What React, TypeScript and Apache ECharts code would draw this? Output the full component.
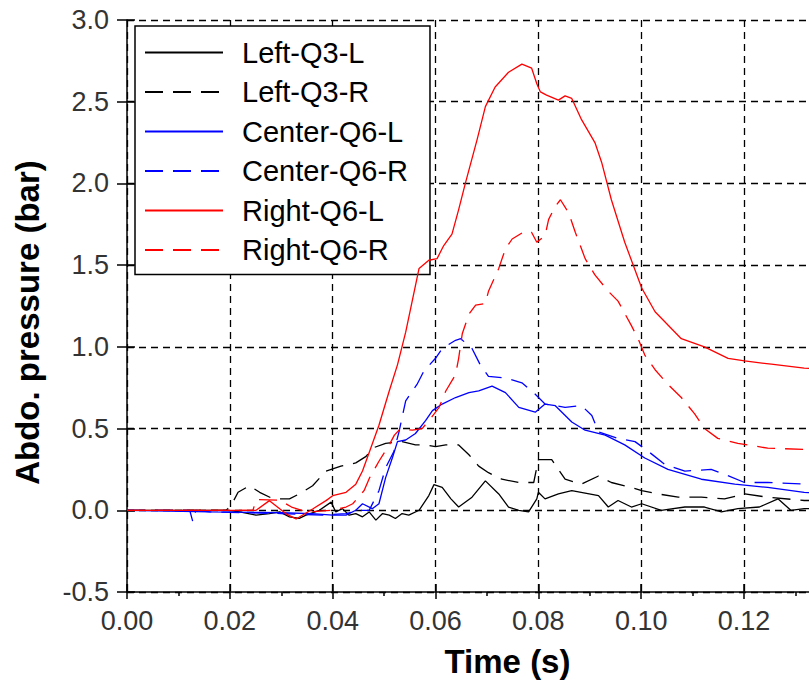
import React, { useEffect, useRef } from "react";
import * as echarts from "echarts";

const seriesNames = ["Left-Q3-L", "Left-Q3-R", "Center-Q6-L", "Center-Q6-R", "Right-Q6-L", "Right-Q6-R"];

const leftQ3L: [number, number][] = [
  [0, 0], [0.0196, 0], [0.0219, -0.01], [0.0251, -0.03], [0.0277, -0.02], [0.0297, -0.01], [0.0316, -0.04],
  [0.0335, -0.05], [0.0348, -0.03], [0.0374, 0.0], [0.0397, 0.05], [0.0406, -0.01], [0.0419, 0.01], [0.0432, -0.03],
  [0.0445, -0.02], [0.0458, -0.04], [0.0471, -0.01], [0.0484, -0.06], [0.0497, -0.02], [0.051, -0.03], [0.0522, -0.05],
  [0.0535, -0.02], [0.0548, -0.03], [0.0568, 0.0], [0.0587, 0.09], [0.0597, 0.157], [0.0613, 0.14], [0.063, 0.07],
  [0.0645, 0.02], [0.0671, 0.08], [0.0697, 0.18], [0.0723, 0.1], [0.0742, 0.02], [0.0762, 0.0], [0.0781, -0.01],
  [0.0797, 0.07], [0.08, 0.11], [0.0813, 0.07], [0.0839, 0.1], [0.0865, 0.12], [0.0917, 0.09], [0.0936, 0.02],
  [0.0955, 0.06], [0.0981, 0.02], [0.1001, 0.04], [0.1039, 0.0], [0.1085, 0.02], [0.1123, 0.02], [0.1156, -0.01],
  [0.1188, 0.01], [0.123, 0.02], [0.1266, 0.07], [0.1291, 0.0], [0.1317, 0.01], [0.136, 0.01],
];

const leftQ3R: [number, number][] = [
  [0, 0], [0.0193, 0], [0.0196, 0.01], [0.0206, 0.05], [0.0216, 0.11], [0.0238, 0.15], [0.0258, 0.11], [0.0284, 0.07],
  [0.0316, 0.07], [0.0335, 0.1], [0.0361, 0.15], [0.0387, 0.24], [0.0416, 0.27], [0.0445, 0.29], [0.0465, 0.33],
  [0.0477, 0.38], [0.0503, 0.41], [0.0535, 0.42], [0.0561, 0.4], [0.0581, 0.4], [0.06, 0.39], [0.062, 0.4],
  [0.0645, 0.4], [0.0665, 0.34], [0.0684, 0.27], [0.0703, 0.23], [0.0729, 0.19], [0.0762, 0.17], [0.0791, 0.17],
  [0.08, 0.31], [0.0826, 0.31], [0.0852, 0.19], [0.0884, 0.16], [0.0917, 0.21], [0.0942, 0.17], [0.0981, 0.14],
  [0.1001, 0.12], [0.1033, 0.1], [0.1072, 0.08], [0.1117, 0.08], [0.1162, 0.07], [0.1201, 0.1], [0.1246, 0.08],
  [0.1317, 0.06], [0.136, 0.06],
];

const centerQ6L: [number, number][] = [
  [0, 0], [0.0161, -0.01], [0.03, -0.015], [0.036, -0.02], [0.04, -0.03], [0.0426, -0.03], [0.0445, 0.0],
  [0.0458, 0.04], [0.0477, 0.01], [0.049, 0.04], [0.0503, 0.2], [0.0516, 0.32], [0.0526, 0.42], [0.0542, 0.43],
  [0.0561, 0.47], [0.0581, 0.55], [0.0594, 0.61], [0.0613, 0.65], [0.0639, 0.69], [0.0665, 0.72], [0.0684, 0.73],
  [0.071, 0.76], [0.0736, 0.72], [0.0762, 0.63], [0.0794, 0.6], [0.0813, 0.65], [0.0833, 0.64], [0.0865, 0.54],
  [0.0891, 0.49], [0.093, 0.46], [0.0968, 0.4], [0.1007, 0.32], [0.1052, 0.25], [0.1117, 0.19], [0.1182, 0.16],
  [0.1246, 0.14], [0.1317, 0.11], [0.136, 0.1],
];

const centerQ6R: [number, number][] = [
  [0, 0], [0.0122, 0], [0.0128, -0.07], [0.0134, 0], [0.0161, -0.01], [0.03, -0.02], [0.038, -0.03], [0.0426, -0.02],
  [0.0452, 0.0], [0.0471, 0.0], [0.049, 0.12], [0.0503, 0.26], [0.0519, 0.36], [0.0529, 0.48], [0.0542, 0.67],
  [0.0564, 0.77], [0.0577, 0.85], [0.06, 0.93], [0.0613, 0.99], [0.0639, 1.04], [0.0649, 1.05], [0.0671, 0.99],
  [0.0687, 0.89], [0.0703, 0.82], [0.0736, 0.81], [0.0768, 0.78], [0.0794, 0.71], [0.0813, 0.65], [0.0852, 0.63],
  [0.0884, 0.64], [0.0904, 0.58], [0.0917, 0.48], [0.0955, 0.44], [0.0988, 0.42], [0.1014, 0.36], [0.1046, 0.28],
  [0.1085, 0.24], [0.1136, 0.25], [0.1162, 0.22], [0.1201, 0.17], [0.1246, 0.17], [0.1317, 0.16], [0.136, 0.155],
];

const rightQ6L: [number, number][] = [
  [0, 0], [0.0251, 0], [0.0277, 0.059], [0.031, -0.023], [0.0329, -0.053], [0.0361, 0.008], [0.0387, 0.059],
  [0.04, 0.089], [0.0426, 0.11], [0.0445, 0.16], [0.0458, 0.24], [0.0474, 0.38], [0.049, 0.52], [0.051, 0.73],
  [0.0526, 0.89], [0.0542, 1.09], [0.0568, 1.48], [0.0587, 1.53], [0.0603, 1.54], [0.0616, 1.62], [0.0632, 1.69],
  [0.0645, 1.84], [0.0658, 2.0], [0.0681, 2.27], [0.0697, 2.47], [0.0716, 2.59], [0.0742, 2.68], [0.0768, 2.73],
  [0.0787, 2.705], [0.0797, 2.61], [0.0804, 2.56], [0.0816, 2.54], [0.0839, 2.51], [0.0852, 2.536], [0.0865, 2.52],
  [0.0884, 2.39], [0.091, 2.25], [0.0923, 2.13], [0.0942, 1.9], [0.0968, 1.64], [0.1001, 1.36], [0.1027, 1.215],
  [0.1078, 1.05], [0.1123, 1.0], [0.1169, 0.93], [0.1201, 0.914], [0.1253, 0.894], [0.1317, 0.87], [0.136, 0.86],
];

const rightQ6R: [number, number][] = [
  [0, 0], [0.0245, 0], [0.0251, 0.065], [0.0297, 0.062], [0.032, 0.02], [0.035, -0.01], [0.04, 0.0], [0.0426, 0.02],
  [0.0439, 0.04], [0.0461, 0.12], [0.0472, 0.2], [0.049, 0.3], [0.051, 0.4], [0.052, 0.46], [0.0532, 0.5],
  [0.0555, 0.49], [0.0574, 0.5], [0.059, 0.56], [0.0607, 0.63], [0.062, 0.73], [0.0639, 0.83], [0.0645, 0.93],
  [0.0652, 1.08], [0.0665, 1.2], [0.0678, 1.255], [0.0697, 1.265], [0.0703, 1.34], [0.0723, 1.48], [0.0736, 1.6],
  [0.0749, 1.66], [0.0775, 1.71], [0.0787, 1.7], [0.0797, 1.64], [0.0813, 1.68], [0.082, 1.78], [0.0833, 1.86],
  [0.0843, 1.9], [0.0859, 1.82], [0.0872, 1.7], [0.0891, 1.54], [0.091, 1.44], [0.0936, 1.34], [0.0955, 1.28],
  [0.0981, 1.13], [0.0994, 1.05], [0.1007, 0.95], [0.1027, 0.86], [0.1052, 0.77], [0.1078, 0.69], [0.1104, 0.59],
  [0.1123, 0.5], [0.1149, 0.44], [0.1188, 0.41], [0.1246, 0.38], [0.1317, 0.373], [0.136, 0.37],
];

const seriesData = [leftQ3L, leftQ3R, centerQ6L, centerQ6R, rightQ6L, rightQ6R];
const seriesColors = ["#000000", "#000000", "#0000ff", "#0000ff", "#ff0000", "#ff0000"];
const seriesDashed = [false, true, false, true, false, true];

const xMin = 0;
const xMax = 0.148;
const xStep = 0.02;
const yMin = -0.5;
const yMax = 3.0;
const yStep = 0.5;

const FONT = "'Liberation Sans', Arial, sans-serif";

export default function App() {
  const ref = useRef<HTMLDivElement>(null);
  useEffect(() => {
    if (!ref.current) return;
    const chart = echarts.init(ref.current, null, { renderer: "svg" });
    const option: any = {
      animation: false,
      backgroundColor: "#ffffff",
      textStyle: { fontFamily: FONT },
      grid: { left: 127, top: 20, right: 0, bottom: 88, containLabel: false },
      legend: {
        orient: "vertical",
        left: 135,
        top: 26,
        itemWidth: 78,
        itemHeight: 14,
        itemGap: 10.5,
        padding: [12, 22, 10, 9],
        borderColor: "#000",
        borderWidth: 1.5,
        borderRadius: 0,
        backgroundColor: "#fff",
        itemStyle: { opacity: 0 },
        textStyle: { fontSize: 29, color: "#000", fontFamily: FONT, lineHeight: 28, padding: [0, 0, 0, 14] },
        data: seriesNames,
      },
      xAxis: [
        {
          type: "value",
          min: xMin,
          max: xMax,
          interval: xStep,
          name: "Time (s)",
          nameLocation: "middle",
          nameGap: 53,
          nameTextStyle: { fontSize: 33, fontWeight: "bold", color: "#000", fontFamily: FONT },
          axisLine: { show: true, onZero: false, lineStyle: { color: "#000", width: 1.5 } },
          axisTick: { show: true, inside: false, length: 7, lineStyle: { color: "#000", width: 1.5 } },
          minorTick: { show: true, splitNumber: 2, length: 4, lineStyle: { color: "#000", width: 1.5 } },
          axisLabel: {
            margin: 15,
            fontSize: 27,
            color: "#333",
            fontFamily: FONT,
            formatter: (v: number) => (v > 0.13 ? "" : v.toFixed(2)),
          },
          splitLine: { show: true, lineStyle: { color: "#000", width: 1.3, type: [7, 5] } },
        },
        {
          type: "value",
          min: xMin,
          max: xMax,
          interval: xStep,
          position: "bottom",
          axisLine: { show: false, onZero: false },
          axisTick: { show: true, inside: true, length: 8, lineStyle: { color: "#000", width: 1.5 } },
          axisLabel: { show: false },
          splitLine: { show: false },
        },
      ],
      yAxis: [
        {
          type: "value",
          min: yMin,
          max: yMax,
          interval: yStep,
          name: "Abdo. pressure (bar)",
          nameLocation: "middle",
          nameGap: 83,
          nameTextStyle: { fontSize: 33, fontWeight: "bold", color: "#000", fontFamily: FONT, padding: [0, 33, 0, 0] },
          axisLine: { show: true, onZero: false, lineStyle: { color: "#000", width: 1.5 } },
          axisTick: { show: true, inside: false, length: 10, lineStyle: { color: "#000", width: 1.5 } },
          axisLabel: {
            margin: 18,
            fontSize: 27,
            color: "#333",
            fontFamily: FONT,
            padding: [6, 0, 0, 0],
            formatter: (v: number) => v.toFixed(1),
          },
          splitLine: { show: true, lineStyle: { color: "#000", width: 1.3, type: [7, 5] } },
        },
        {
          type: "value",
          min: yMin,
          max: yMax,
          interval: yStep,
          position: "left",
          axisLine: { show: false, onZero: false },
          axisTick: { show: true, inside: true, length: 8, lineStyle: { color: "#000", width: 1.5 } },
          axisLabel: { show: false },
          splitLine: { show: false },
        },
      ],
      series: seriesNames.map((name, i) => ({
        name,
        type: "line",
        xAxisIndex: 0,
        yAxisIndex: 0,
        data: seriesData[i],
        symbol: "none",
        showSymbol: false,
        smooth: false,
        clip: true,
        color: seriesColors[i],
        lineStyle: {
          color: seriesColors[i],
          width: 1.3,
          type: seriesDashed[i] ? [18, 10] : "solid",
        },
        emphasis: { disabled: true },
        z: 2 + i,
      })),
    };
    chart.setOption(option);
    return () => chart.dispose();
  }, []);
  return (
    <div
      style={{
        position: "fixed",
        left: 0,
        top: 0,
        width: 809,
        height: 683,
        overflow: "hidden",
        background: "#fff",
      }}
    >
      <div ref={ref} style={{ width: 891, height: 683 }} />
    </div>
  );
}
